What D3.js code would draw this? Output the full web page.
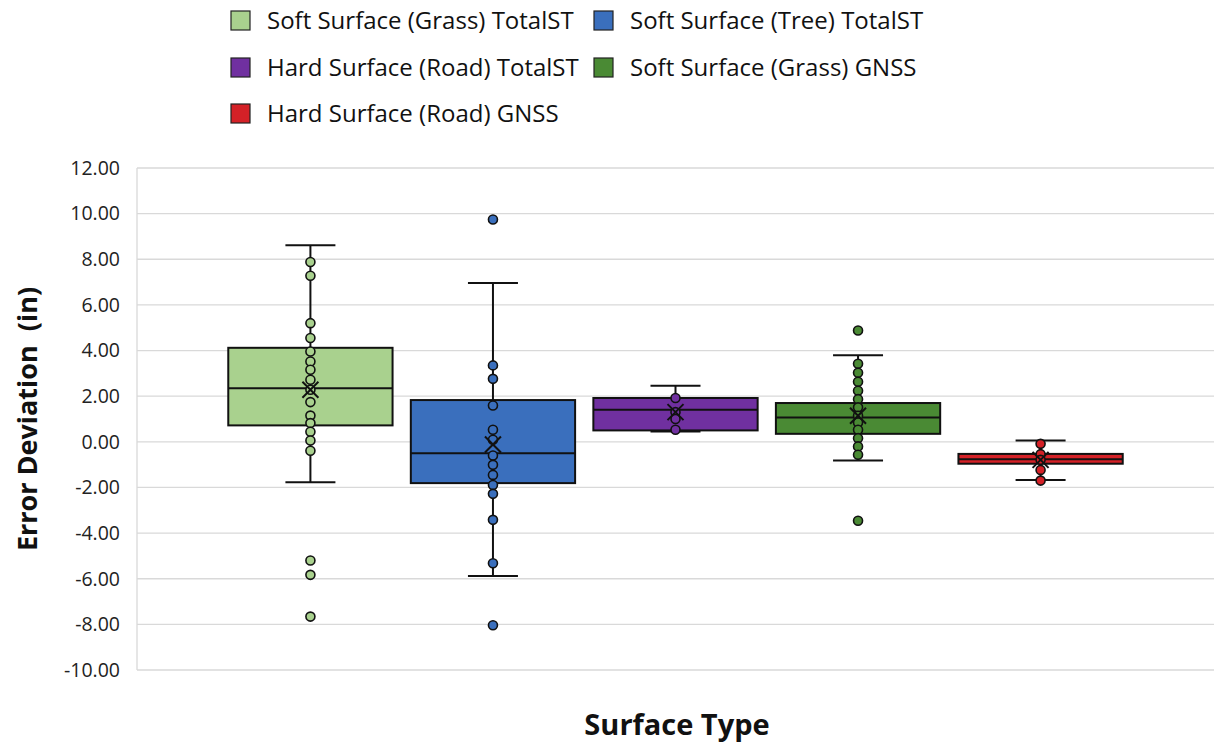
<!DOCTYPE html>
<html>
<head>
<meta charset="utf-8">
<script src="https://cdn.jsdelivr.net/npm/d3@7"></script>
<style>
  body { margin: 0; background: #fff; }
  svg { display: block; font-family: "Open Sans", Lato, sans-serif; }
</style>
</head>
<body>
<div id="chart"></div>
<script>
// series (one box per surface / instrument)
const series = [
  "Soft Surface (Grass) TotalST",
  "Soft Surface (Tree) TotalST",
  "Hard Surface (Road) TotalST",
  "Soft Surface (Grass) GNSS",
  "Hard Surface (Road) GNSS"
];
const colors = ["#a9d18e", "#3a6fbd", "#7030a0", "#4a8a34", "#d42127"];

// box statistics
const q1 = [0.72, -1.81, 0.50, 0.35, -0.96];
const median = [2.35, -0.50, 1.40, 1.07, -0.76];
const q3 = [4.12, 1.83, 1.92, 1.70, -0.53];
const whiskerLow = [-1.77, -5.88, 0.45, -0.82, -1.67];
const whiskerHigh = [8.61, 6.96, 2.46, 3.79, 0.06];
const mean = [2.28, -0.12, 1.30, 1.14, -0.79];

// individual points per series
const points = [
  [7.88, 7.28, 5.20, 4.55, 3.96, 3.52, 3.16, 2.72, 2.28, 1.74, 1.15, 0.82, 0.44, 0.06, -0.39, -5.20, -5.83, -7.66],
  [9.74, 3.35, 2.76, 1.59, 0.53, 0.09, -0.60, -1.01, -1.45, -1.89, -2.28, -3.42, -5.32, -8.04],
  [1.92, 1.30, 1.00, 0.53],
  [4.88, 3.42, 3.03, 2.63, 2.24, 1.87, 1.51, 1.14, 0.85, 0.53, 0.16, -0.20, -0.57, -3.46],
  [-0.09, -0.54, -0.79, -1.23, -1.70]
];

const yTicks = [12, 10, 8, 6, 4, 2, 0, -2, -4, -6, -8, -10];

const width = 1214, height = 743;
const plotLeft = 137, plotRight = 1214, plotTop = 168, plotBottom = 670;

const svg = d3.select("#chart").append("svg")
  .attr("width", width)
  .attr("height", height);

const y = d3.scaleLinear().domain([-10, 12]).range([plotBottom, plotTop]);
const x = d3.scaleBand().domain(series).range([plotLeft, plotRight])
  .paddingInner(0.1).paddingOuter(0.5);

// gridlines
svg.append("g")
  .selectAll("line")
  .data(yTicks)
  .join("line")
  .attr("x1", plotLeft).attr("x2", plotRight)
  .attr("y1", d => y(d)).attr("y2", d => y(d))
  .attr("stroke", "#d9d9d9")
  .attr("stroke-width", 1.3);

svg.append("line")
  .attr("x1", plotLeft).attr("x2", plotLeft)
  .attr("y1", plotTop).attr("y2", plotBottom)
  .attr("stroke", "#d9d9d9")
  .attr("stroke-width", 1.3);

// y tick labels (plain hyphen like the original)
svg.append("g")
  .selectAll("text")
  .data(yTicks)
  .join("text")
  .attr("x", 120)
  .attr("y", d => y(d))
  .attr("dy", "0.35em")
  .attr("text-anchor", "end")
  .style("font-size", "19.5px")
  .attr("fill", "#222")
  .text(d => d.toFixed(2));

// axis titles
svg.append("text")
  .attr("transform", `translate(37, ${(plotTop + plotBottom) / 2}) rotate(-90)`)
  .attr("text-anchor", "middle")
  .style("font-size", "27px")
  .style("font-weight", "bold")
  .style("white-space", "pre")
  .attr("fill", "#111")
  .text("Error Deviation  (in)");

svg.append("text")
  .attr("x", 677)
  .attr("y", 735)
  .attr("text-anchor", "middle")
  .style("font-size", "29px")
  .style("font-weight", "bold")
  .attr("fill", "#111")
  .text("Surface Type");

// boxes
const boxes = svg.append("g")
  .selectAll("g")
  .data(series)
  .join("g");

const bw = x.bandwidth();
const capW = 50;

boxes.each(function (s, i) {
  const g = d3.select(this);
  const cx = x(s) + bw / 2;

  // whiskers
  g.append("line")
    .attr("x1", cx).attr("x2", cx)
    .attr("y1", y(whiskerHigh[i])).attr("y2", y(q3[i]))
    .attr("stroke", "#111").attr("stroke-width", 2);
  g.append("line")
    .attr("x1", cx).attr("x2", cx)
    .attr("y1", y(q1[i])).attr("y2", y(whiskerLow[i]))
    .attr("stroke", "#111").attr("stroke-width", 2);
  [whiskerHigh[i], whiskerLow[i]].forEach(v => {
    g.append("line")
      .attr("x1", cx - capW / 2).attr("x2", cx + capW / 2)
      .attr("y1", y(v)).attr("y2", y(v))
      .attr("stroke", "#111").attr("stroke-width", 2);
  });

  g.append("rect")
    .attr("x", x(s))
    .attr("y", y(q3[i]))
    .attr("width", bw)
    .attr("height", y(q1[i]) - y(q3[i]))
    .attr("fill", colors[i])
    .attr("stroke", "#111")
    .attr("stroke-width", 2);

  g.append("line")
    .attr("x1", x(s)).attr("x2", x(s) + bw)
    .attr("y1", y(median[i])).attr("y2", y(median[i]))
    .attr("stroke", "#111").attr("stroke-width", 2);

  // points
  g.selectAll("circle")
    .data(points[i])
    .join("circle")
    .attr("cx", cx)
    .attr("cy", d => y(d))
    .attr("r", 4.5)
    .attr("fill", colors[i])
    .attr("stroke", "#111")
    .attr("stroke-width", 1.6);

  // mean marker
  const my = y(mean[i]);
  const m = 8;
  g.append("path")
    .attr("d", `M${cx - m},${my - m}L${cx + m},${my + m}M${cx - m},${my + m}L${cx + m},${my - m}`)
    .attr("stroke", "#111")
    .attr("stroke-width", 2)
    .attr("fill", "none");
});

// legend
const legendPos = [[230, 21], [593, 21], [230, 68], [593, 68], [230, 114]];
const legend = svg.append("g")
  .selectAll("g")
  .data(series)
  .join("g")
  .attr("transform", (d, i) => `translate(${legendPos[i][0]}, ${legendPos[i][1]})`);

legend.append("rect")
  .attr("x", 1).attr("y", -10)
  .attr("width", 19).attr("height", 19)
  .attr("fill", (d, i) => colors[i])
  .attr("stroke", "#222")
  .attr("stroke-width", 1.2);

legend.append("text")
  .attr("x", 37)
  .attr("y", 0)
  .attr("dy", "0.35em")
  .style("font-size", "24px")
  .attr("fill", "#111")
  .text(d => d);
</script>
</body>
</html>
